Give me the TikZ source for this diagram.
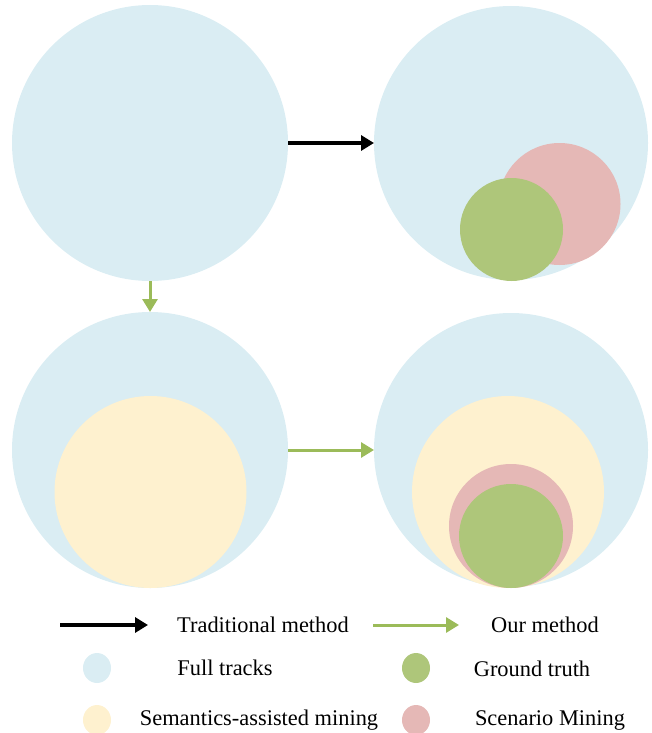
\documentclass[tikz,border=0pt]{standalone}
\usepackage{fontspec}
\setmainfont{Liberation Serif}
\usetikzlibrary{arrows.meta,shapes.geometric}
\definecolor{fulltr}{HTML}{DAEDF3}
\definecolor{gt}{HTML}{AEC67A}
\definecolor{scen}{HTML}{E5B8B6}
\definecolor{sem}{HTML}{FEF1CF}
\definecolor{arrg}{HTML}{9BBB59}
\begin{document}
\begin{tikzpicture}[x=1pt,y=-1pt,
  disc/.style={circle,inner sep=0pt,outer sep=0pt,minimum size=#1},
  leg/.style={ellipse,inner sep=0pt,minimum width=28pt,minimum height=30pt},
  blackarr/.style={line width=3.2pt,-{Triangle[length=13pt,width=15pt]}},
  greenarr/.style={arrg,line width=3pt,-{Triangle[length=13pt,width=15pt]}},
  lbl/.style={font=\fontsize{22.4}{26}\selectfont,anchor=center}]
\useasboundingbox (0,0) rectangle (652,733);
% top-left
\node[disc=276pt,fill=fulltr] (tl) at (150,143) {};
% top-right
\node[disc=274pt,fill=fulltr] (tr) at (511,143) {};
\node[disc=122pt,fill=scen] (trs) at (559.5,204) {};
\node[disc=103pt,fill=gt] (trg) at (511.5,229.5) {};
% bottom-left
\node[disc=276pt,fill=fulltr] (bl) at (150,450) {};
\node[disc=192pt,fill=sem] (bly) at (150.5,492) {};
% bottom-right
\node[disc=274pt,fill=fulltr] (br) at (511,450) {};
\node[disc=192pt,fill=sem] (bry) at (508,492) {};
\node[disc=124pt,fill=scen] (brs) at (511,526) {};
\node[disc=104pt,fill=gt] (brg) at (511,536) {};
% arrows
\draw[blackarr] (tl.east) -- (tr.west);
\draw[greenarr] (bl.east) -- (br.west);
\draw[greenarr] (tl.south) -- (bl.north);
% legend
\coordinate (la1) at (60,625);
\coordinate (la2) at (148,625);
\coordinate (lb1) at (373,625);
\coordinate (lb2) at (459,625);
\draw[blackarr] (la1) -- (la2);
\draw[greenarr] (lb1) -- (lb2);
\node[lbl] (t1) at (263,625) {Traditional method};
\node[lbl] (t2) at (545,625) {Our method};
\node[leg,fill=fulltr] (c1) at (97,668) {};
\node[lbl] (t3) at (225,668) {Full tracks};
\node[leg,fill=gt] (c2) at (416,668) {};
\node[lbl] (t4) at (532,669) {Ground truth};
\node[leg,fill=sem] (c3) at (97,720) {};
\node[lbl] (t5) at (259,720) {Semantics-assisted mining};
\node[leg,fill=scen] (c4) at (416,720) {};
\node[lbl] (t6) at (550,720) {Scenario Mining};
\end{tikzpicture}
\end{document}
